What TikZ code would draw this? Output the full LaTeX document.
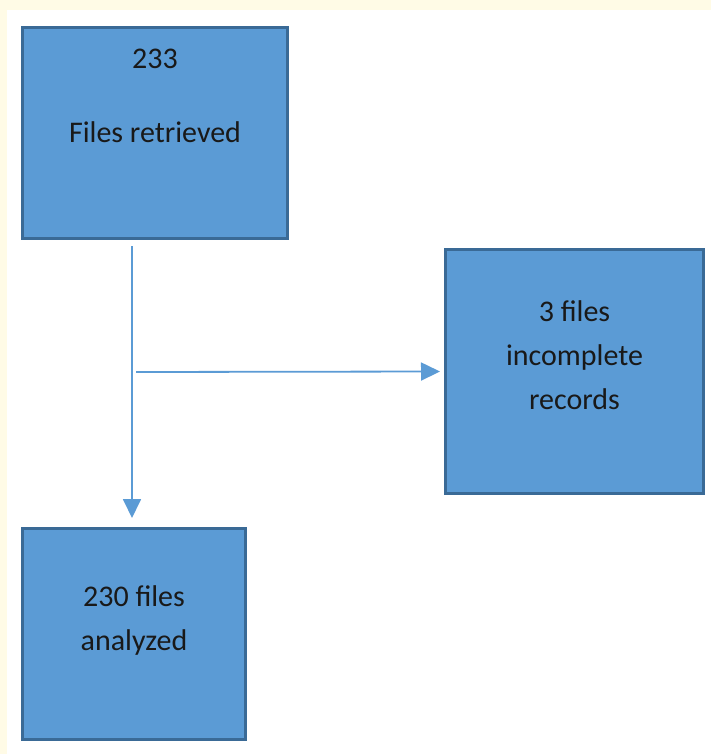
\documentclass[tikz,border=0pt]{standalone}
\usepackage{fontspec}
\setmainfont{Carlito}
\usepackage{xcolor}
\usetikzlibrary{arrows.meta}
\definecolor{boxfill}{HTML}{5B9BD5}
\definecolor{boxline}{HTML}{3A6A96}
\definecolor{cream}{HTML}{FFFBE6}

\begin{document}
\begin{tikzpicture}[x=1pt,y=-1pt,main node/.style={rectangle, draw=boxline, line width=3pt, fill=boxfill, inner sep=0pt},box text/.style={font=\fontsize{30}{44}\selectfont, align=center, anchor=base, text=black!90},flow/.style={-{Triangle[length=19pt,width=18pt]}, draw=boxfill, line width=1.8pt}]
			% Page
			\fill[cream] (0,0) rectangle (711,754);
			\fill[white] (7,10) rectangle (711,754);
			\useasboundingbox (0,0) rectangle (711,754);
			
			% Nodes
			\node[main node, minimum width=265pt, minimum height=211pt] (1) at (155,133) {};
			\node[main node, minimum width=258pt, minimum height=244pt] (2) at (574.5,371.5) {};
			\node[main node, minimum width=223pt, minimum height=211pt] (3) at (134,634) {};
			
			% text, anchored on the last line
			\node[box text] (t1) at (155,143) {233\\[30pt]Files retrieved};
			\node[box text] (t2) at (574.5,409) {3 files\\incomplete\\records};
			\node[box text] (t3) at (134,650) {230 files\\analyzed};
			
			\coordinate (split) at (136,372);
			
			\draw[flow] ([xshift=-23pt,yshift=-6pt]1.south) -- ([xshift=-2pt,yshift=9pt]3.north);
			\draw[flow] (split) -- ([xshift=-4pt]2.west);
			
		\end{tikzpicture}
\end{document}
